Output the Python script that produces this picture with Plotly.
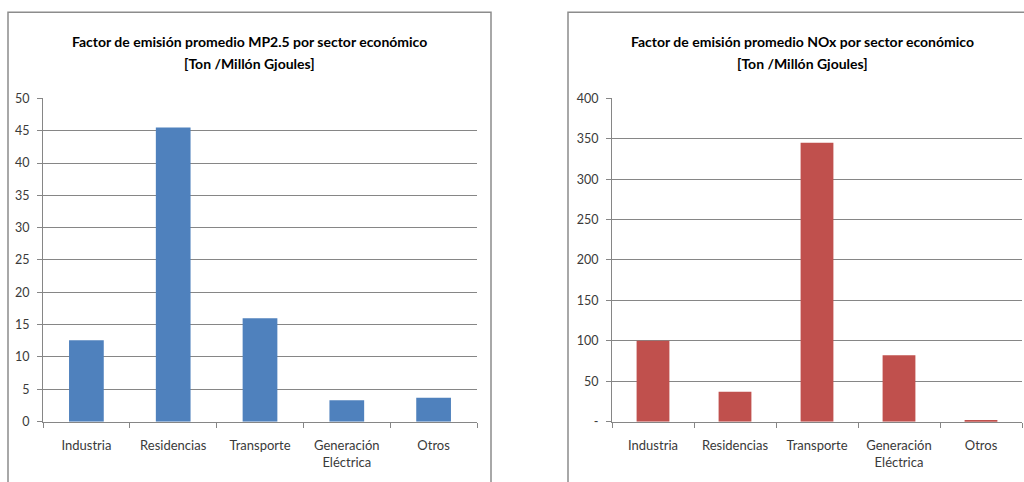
import plotly.graph_objects as go

categories = ["Industria", "Residencias", "Transporte", "Generación<br>Eléctrica", "Otros"]
mp25_values = [12.6, 45.5, 16.0, 3.3, 3.7]
nox_values = [100, 37, 345, 82, 2]

title_left = ["Factor de emisión promedio MP2.5 por sector económico", "[Ton /Millón Gjoules]"]
title_right = ["Factor de emisión promedio NOx por sector económico", "[Ton /Millón Gjoules]"]

left_ticks = [0, 5, 10, 15, 20, 25, 30, 35, 40, 45, 50]
right_ticks = [0, 50, 100, 150, 200, 250, 300, 350, 400]
right_ticktext = ["-", "50", "100", "150", "200", "250", "300", "350", "400"]

W, H = 1024, 482
FONT = "Lato"
GRID = "#868686"
TXT = "#3a3a3a"

fig = go.Figure()
fig.add_trace(go.Bar(x=categories, y=mp25_values, marker=dict(color="#4f81bd", line=dict(width=0)),
                     width=0.4, xaxis="x", yaxis="y", showlegend=False))
fig.add_trace(go.Bar(x=categories, y=nox_values, marker=dict(color="#c0504d", line=dict(width=0)),
                     width=0.4, xaxis="x2", yaxis="y2", showlegend=False))

def px(x):
    return x / W

def py(y):
    # calibrated for the capture: page shifted 8px down and squeezed vertically
    yf = y * 1.0331 - 8
    return 1 - yf / H

ydom = [py(421), py(98)]
common_x = dict(type="category", showline=True, linecolor=GRID, linewidth=1, ticks="outside",
                tickson="boundaries", ticklen=5, tickcolor=GRID, showgrid=False,
                ticklabelstandoff=12,
                tickfont=dict(family=FONT, size=13, color=TXT), fixedrange=True)
common_y = dict(showline=True, linecolor=GRID, linewidth=1, ticks="outside", ticklen=5,
                tickcolor=GRID, showgrid=True, gridcolor=GRID, gridwidth=1, zeroline=False,
                ticklabelstandoff=5,
                tickfont=dict(family=FONT, size=12.5, color=TXT), fixedrange=True)

annotations = []
for cx, lines in ((249, title_left), (802, title_right)):
    for yy, line in zip((41, 63), lines):
        annotations.append(dict(text=line, xref="paper", yref="paper", x=px(cx), y=py(yy),
                                xanchor="center", yanchor="middle", showarrow=False,
                                font=dict(family=FONT, size=14, color="black", weight="bold")))

fig.update_layout(
    width=W, height=H,
    margin=dict(l=0, r=0, t=0, b=0),
    paper_bgcolor="white", plot_bgcolor="white",
    xaxis=dict(domain=[px(43), px(477)], anchor="y", **common_x),
    yaxis=dict(domain=ydom, anchor="x", range=[0, 50], tickvals=left_ticks, **common_y),
    xaxis2=dict(domain=[px(612), px(1022)], anchor="y2", **common_x),
    yaxis2=dict(domain=ydom, anchor="x2", range=[0, 400], tickvals=right_ticks,
                ticktext=right_ticktext, **common_y),
    shapes=[
        dict(type="rect", xref="paper", yref="paper", x0=px(8), x1=px(491), y0=-0.1, y1=py(12),
             line=dict(color="#8c8c8c", width=1.5), layer="below"),
        dict(type="rect", xref="paper", yref="paper", x0=px(568), x1=px(1030), y0=-0.1, y1=py(12),
             line=dict(color="#8c8c8c", width=1.5), layer="below"),
    ],
    annotations=annotations,
)

fig.write_html("out.html", config={"displayModeBar": False},
               post_script="document.body.style.margin='0';document.body.style.overflow='hidden';")
